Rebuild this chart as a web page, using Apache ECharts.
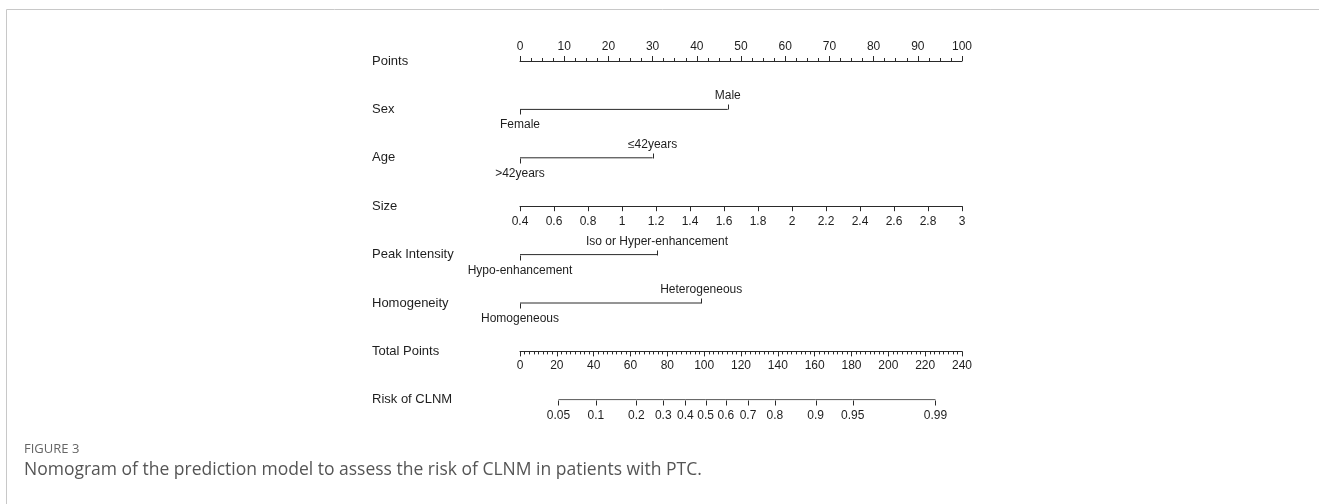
<!DOCTYPE html>
<html>
<head>
<meta charset="utf-8">
<script src="https://cdn.jsdelivr.net/npm/echarts@6/dist/echarts.min.js"></script>
<style>
html,body{margin:0;padding:0;background:#fff;}
#chart{width:1319px;height:504px;}
</style>
</head>
<body>
<div id="chart"></div>
<script>
// ---- data ----
const rowLabels = ['Points','Sex','Age','Size','Peak Intensity','Homogeneity','Total Points','Risk of CLNM'];
const pointsMin = 0, pointsMax = 100, pointsStep = 10;
const sexLevels = ['Female','Male'];
const sexPoints = [0, 47];
const ageLevels = ['>42years','≤42years'];
const agePoints = [0, 30];
const sizeMin = 0.4, sizeMax = 3, sizeStep = 0.2;
const peakLevels = ['Hypo-enhancement','Iso or Hyper-enhancement'];
const peakPoints = [0, 31];
const homoLevels = ['Homogeneous','Heterogeneous'];
const homoPoints = [0, 41];
const totalMin = 0, totalMax = 240, totalStep = 20;
const riskLabels = ['0.05','0.1','0.2','0.3','0.4','0.5','0.6','0.7','0.8','0.9','0.95','0.99'];
const riskTotalPoints = [20.9, 41.2, 63.2, 77.8, 89.8, 100.8, 111.8, 123.8, 138.4, 160.5, 180.7, 225.6];
const captionTitle = 'FIGURE 3';
const captionText = 'Nomogram of the prediction model to assess the risk of CLNM in patients with PTC.';

// ---- layout ----
const FONT = 'Liberation Sans, Arial, Helvetica, sans-serif';
const INK = '#1e1e1e';
const LINE = '#2a2a2a';
const gridLeft = 520, gridWidth = 442, gridTop = 61, rowGap = 48.4;
const nRows = rowLabels.length;

const chart = echarts.init(document.getElementById('chart'), null, {renderer: 'canvas'});

function levelSeries(rowIdx, levels, pts, xAxisIndex, alternate) {
  const rowName = rowLabels[rowIdx];
  return [
    {
      type: 'line', xAxisIndex: xAxisIndex, yAxisIndex: 0, silent: true, animation: false,
      symbol: 'none', lineStyle: {color: LINE, width: 1},
      data: pts.map(p => [p, rowName])
    },
    {
      type: 'custom', xAxisIndex: xAxisIndex, yAxisIndex: 0, silent: true, animation: false,
      data: pts.map(p => [p, rowIdx]),
      renderItem: function (params, api) {
        const c = api.coord([api.value(0), api.value(1)]);
        const up = alternate && (params.dataIndex % 2 === 1);
        const x = Math.round(c[0]) + 0.5;
        const y = Math.round(c[1]) + 0.5;
        return {
          type: 'group',
          children: [
            {type: 'line', shape: {x1: x, y1: y, x2: x, y2: y + (up ? -5 : 5)},
             style: {stroke: LINE, lineWidth: 1}},
            {type: 'text', style: {text: levels[params.dataIndex], x: c[0], y: y + (up ? -8 : 9),
              align: 'center', verticalAlign: up ? 'bottom' : 'top',
              fontSize: 12, fill: INK, fontFamily: FONT}}
          ]
        };
      }
    }
  ];
}

const series = [].concat(
  levelSeries(1, sexLevels, sexPoints, 0, true),
  levelSeries(2, ageLevels, agePoints, 0, true),
  levelSeries(4, peakLevels, peakPoints, 0, true),
  levelSeries(5, homoLevels, homoPoints, 0, true),
  levelSeries(7, riskLabels, riskTotalPoints, 1, false)
);

const axisLabelStyle = {fontSize: 12, color: INK, fontFamily: FONT};

const option = {
  animation: false,
  backgroundColor: '#fff',
  grid: [
    {left: gridLeft, width: gridWidth, top: gridTop, height: rowGap * (nRows - 1)},
    {left: gridLeft, width: gridWidth, top: gridTop + rowGap * 3 - 10, height: 10},
    {left: gridLeft, width: gridWidth, top: gridTop + rowGap * 6 - 10, height: 10}
  ],
  xAxis: [
    { // Points
      gridIndex: 0, type: 'value', position: 'top', min: pointsMin, max: pointsMax, interval: pointsStep,
      axisLine: {show: true, lineStyle: {color: LINE, width: 1}},
      axisTick: {show: true, length: 5, lineStyle: {color: LINE}},
      minorTick: {show: true, splitNumber: 4, length: 3, lineStyle: {color: LINE}},
      splitLine: {show: false}, minorSplitLine: {show: false},
      axisLabel: Object.assign({margin: 8}, axisLabelStyle)
    },
    { // hidden total-points scale for risk row
      gridIndex: 0, type: 'value', min: totalMin, max: totalMax, show: false
    },
    { // Size
      gridIndex: 1, type: 'value', position: 'bottom', min: sizeMin, max: sizeMax, interval: sizeStep,
      axisLine: {show: true, lineStyle: {color: LINE, width: 1}},
      axisTick: {show: true, length: 5, lineStyle: {color: LINE}},
      splitLine: {show: false},
      axisLabel: Object.assign({margin: 9, formatter: v => String(+v.toFixed(2))}, axisLabelStyle)
    },
    { // Total Points
      gridIndex: 2, type: 'value', position: 'bottom', min: totalMin, max: totalMax, interval: totalStep,
      axisLine: {show: true, lineStyle: {color: LINE, width: 1}},
      axisTick: {show: true, length: 5, lineStyle: {color: LINE}},
      minorTick: {show: true, splitNumber: 8, length: 3, lineStyle: {color: LINE}},
      splitLine: {show: false}, minorSplitLine: {show: false},
      axisLabel: Object.assign({margin: 8}, axisLabelStyle)
    }
  ],
  yAxis: [
    {
      gridIndex: 0, type: 'category', data: rowLabels, inverse: true, boundaryGap: false,
      axisLine: {show: false}, axisTick: {show: false}, splitLine: {show: false},
      axisLabel: {align: 'left', margin: gridLeft - 372, fontSize: 13, color: INK, fontFamily: FONT}
    },
    {gridIndex: 1, type: 'value', show: false},
    {gridIndex: 2, type: 'value', show: false}
  ],
  series: series,
  graphic: [
    {type: 'line', silent: true, shape: {x1: 6.5, y1: 9.5, x2: 1319, y2: 9.5}, style: {stroke: '#c8c8c8', lineWidth: 1}},
    {type: 'line', silent: true, shape: {x1: 6.5, y1: 9.5, x2: 6.5, y2: 504}, style: {stroke: '#c8c8c8', lineWidth: 1}},
    {type: 'text', left: 24, top: 443, silent: true,
     style: {text: captionTitle, fontSize: 13, fill: '#666', fontFamily: 'Open Sans, sans-serif'}},
    {type: 'text', left: 24, top: 461, silent: true,
     style: {text: captionText, fontSize: 17.5, fill: '#555', fontFamily: 'Open Sans, sans-serif'}}
  ]
};
chart.setOption(option);
</script>
</body>
</html>
